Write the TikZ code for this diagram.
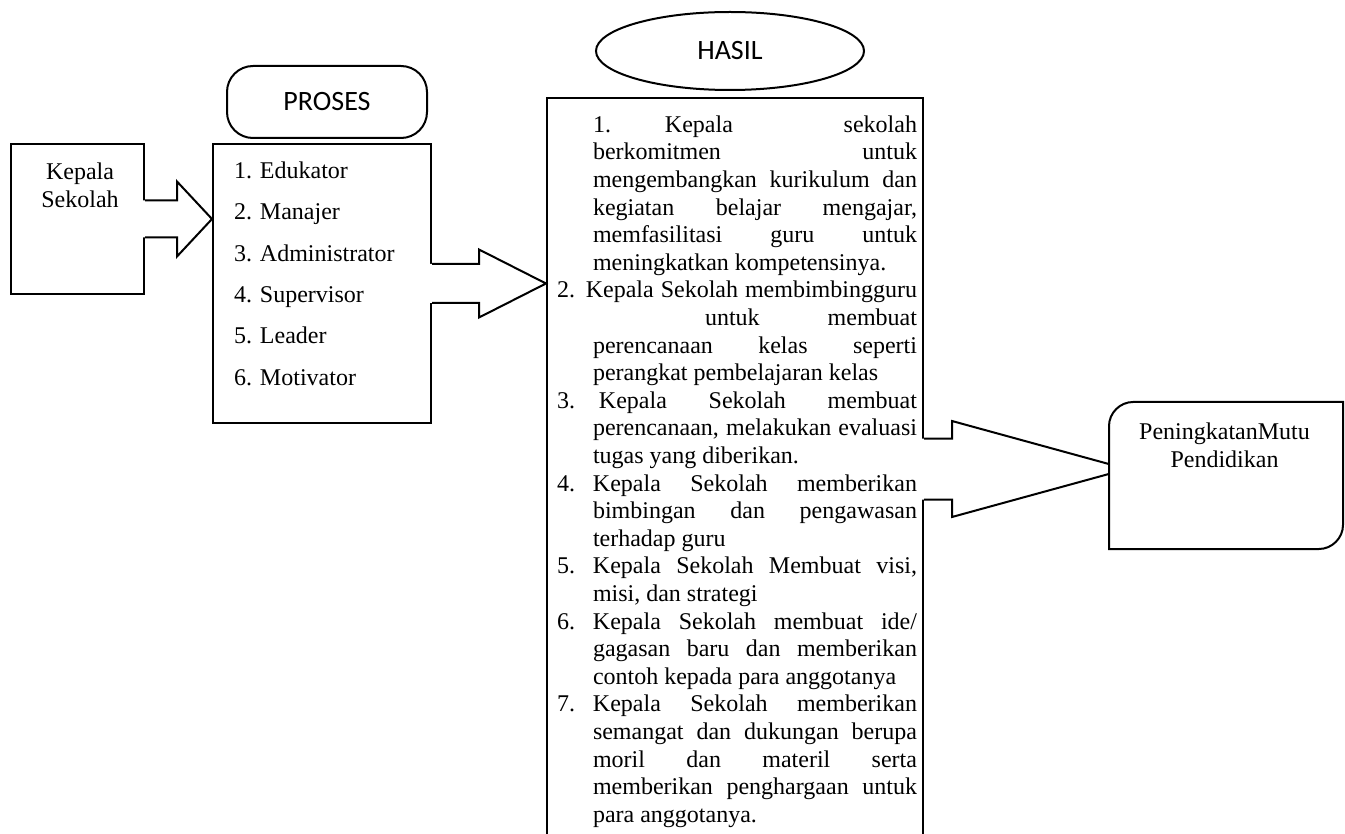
\documentclass[tikz,border=0pt]{standalone}
\usepackage{fontspec}
\setmainfont{Liberation Serif}
\newfontfamily\calibri{Carlito}
\usetikzlibrary{shapes.geometric,calc}

\newcommand{\hjline}[2]{\makebox[18pt][l]{#1}\makebox[162pt][s]{\spaceskip=0pt\relax #2}}
\newcommand{\hlline}[2]{\makebox[18pt][l]{#1}#2}
% block arrow: start, tip, half shaft, half head, head length
\newcommand{\blockarrow}[5]{%
  \coordinate (ba-s) at (#1);
  \coordinate (ba-t) at (#2);
  \fill[white] ($(ba-s)+(-2,-#3)$) -- ($(ba-t)+(-#5,-#3)$) -- ($(ba-t)+(-#5,-#4)$) -- (ba-t)
    -- ($(ba-t)+(-#5,#4)$) -- ($(ba-t)+(-#5,#3)$) -- ($(ba-s)+(-2,#3)$) -- cycle;
  \draw ($(ba-s)+(0,-#3)$) -- ($(ba-t)+(-#5,-#3)$) -- ($(ba-t)+(-#5,-#4)$) -- (ba-t)
    -- ($(ba-t)+(-#5,#4)$) -- ($(ba-t)+(-#5,#3)$) -- ($(ba-s)+(0,#3)$);
}

\begin{document}
\begin{tikzpicture}[x=0.5pt,y=-0.5pt,line width=1pt,
    box/.style={draw,inner sep=0},
    txt/.style={inner sep=0,font=\fontsize{12}{14}\selectfont},
    head/.style={box,font=\calibri\fontsize{14}{17}\selectfont}]
  \useasboundingbox (0,0) rectangle (1345,834);
  \clip (0,0) rectangle (1345,834);

  \node[box,minimum width=66.5pt,minimum height=75pt,
    label={[txt,align=center,anchor=north,xshift=1.25pt,yshift=-9.3pt]north:Kepala\\Sekolah}] (ks) at (77.5,219) {};

  \node[head,rounded corners=13pt,minimum width=100pt,minimum height=36pt] (ph) at (327,102) {PROSES};
  \node[box,minimum width=109pt,minimum height=139.5pt,
    label={[txt,align=left,anchor=north west,font=\fontsize{12}{20.7}\selectfont,xshift=10.5pt,yshift=-8.8pt]north west:1. Edukator\\2. Manajer\\3. Administrator\\4. Supervisor\\5. Leader\\6. Motivator}] (pl) at (322,283.5) {};

  \node[head,ellipse,minimum width=134pt,minimum height=39pt] (hh) at (730,51) {HASIL};
  \node[box,minimum width=188pt,minimum height=371pt] (hb) at (735,469) {};
  \node[txt,anchor=north west,text width=180pt,align=left,font=\fontsize{12}{13.8}\selectfont] (hbt)
    at ([xshift=5pt,yshift=-8.8pt]hb.north west) {\noindent\spaceskip=0pt\xspaceskip=0pt\relax
    \hjline{}{1.\hspace{27pt}Kepala\hfill sekolah}\\
    \hjline{}{berkomitmen untuk}\\
    \hjline{}{mengembangkan kurikulum dan}\\
    \hjline{}{kegiatan belajar mengajar,}\\
    \hjline{}{memfasilitasi guru untuk}\\
    \hlline{}{meningkatkan kompetensinya.}\\
    \makebox[180pt][s]{\spaceskip=0pt\relax 2. Kepala Sekolah membimbingguru}\\
    \hjline{}{\hspace*{56pt}untuk\hfill membuat}\\
    \hjline{}{perencanaan kelas seperti}\\
    \hlline{}{perangkat pembelajaran kelas}\\
    \hjline{3.}{\hspace{3pt}Kepala Sekolah membuat}\\
    \hjline{}{perencanaan, melakukan evaluasi}\\
    \hlline{}{tugas yang diberikan.}\\
    \hjline{4.}{Kepala Sekolah memberikan}\\
    \hjline{}{bimbingan dan pengawasan}\\
    \hlline{}{terhadap guru}\\
    \hjline{5.}{Kepala Sekolah Membuat visi,}\\
    \hlline{}{misi, dan strategi}\\
    \hjline{6.}{Kepala Sekolah membuat ide/}\\
    \hjline{}{gagasan baru dan memberikan}\\
    \hlline{}{contoh kepada para anggotanya}\\
    \hjline{7.}{Kepala Sekolah memberikan}\\
    \hjline{}{semangat dan dukungan berupa}\\
    \hjline{}{moril dan materil serta}\\
    \hjline{}{memberikan penghargaan untuk}\\
    \hlline{}{para anggotanya.}};

  \node[inner sep=0,minimum width=116pt,minimum height=72.5pt] (mp) at (1226,475.5) {};

  \blockarrow{ks.east}{ks.east -| pl.west}{18.5}{37.5}{35}
  \blockarrow{pl.east}{pl.east -| hb.west}{19.5}{34}{67}
  \coordinate (t3) at ($(hb.east -| mp.west)+(18,0)$);
  \blockarrow{hb.east}{t3}{30.5}{48}{175}

  \draw[fill=white] ($(mp.north west)+(0,24)$) .. controls ($(mp.north west)+(0,11)$) and ($(mp.north west)+(11,0)$) .. ($(mp.north west)+(24,0)$)
    -- (mp.north east) -- ($(mp.south east)+(0,-24)$) .. controls ($(mp.south east)+(0,-11)$) and ($(mp.south east)+(-11,0)$) .. ($(mp.south east)+(-24,0)$)
    -- (mp.south west) -- cycle;
  \node[txt,align=center,anchor=north] (mpt) at ([xshift=-0.75pt,yshift=-9.8pt]mp.north) {PeningkatanMutu\\Pendidikan};
\end{tikzpicture}
\end{document}
